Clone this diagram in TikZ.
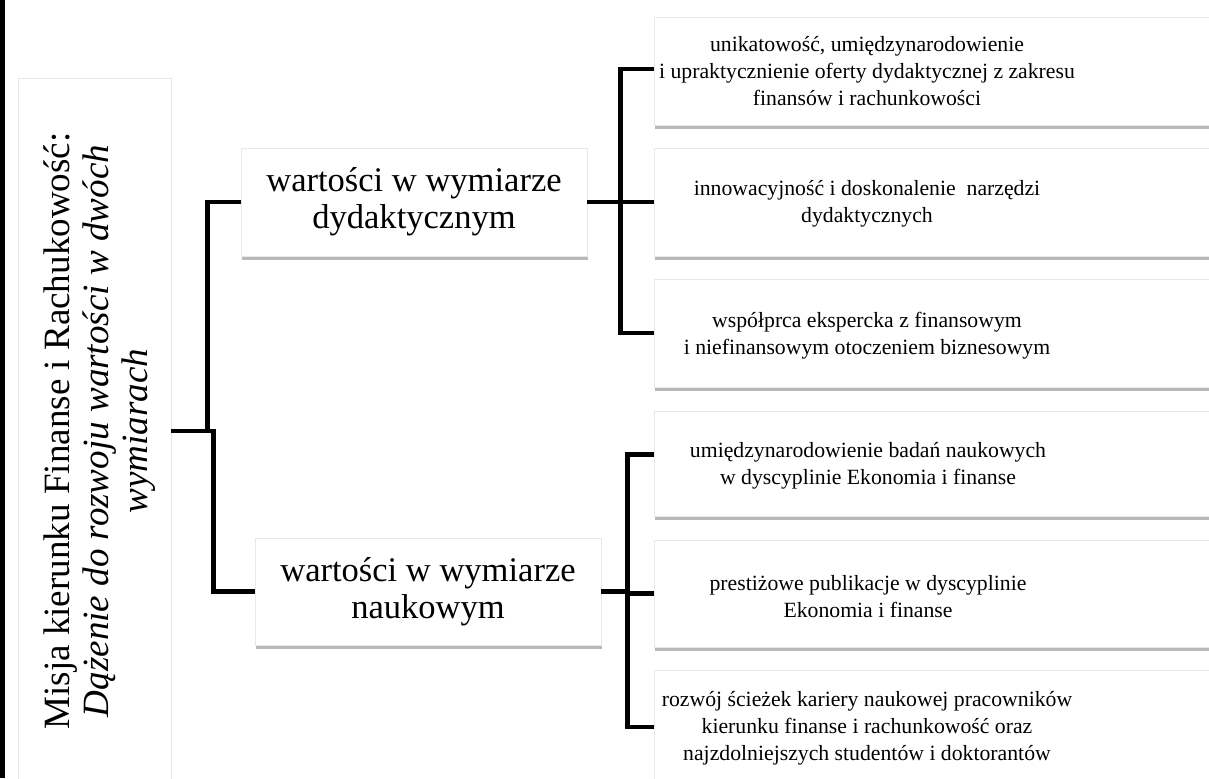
\documentclass[tikz,border=0pt]{standalone}
\usepackage{fontspec}
\setmainfont{Liberation Serif}
\usetikzlibrary{shadows}
\begin{document}
\begin{tikzpicture}[x=0.75pt,y=-0.75pt,
  box/.style={draw=gray!18, line width=0.6pt, fill=white, inner sep=0pt,
    drop shadow={shadow xshift=1.1pt, shadow yshift=-3pt, fill=black!28, opacity=1}},
  conn/.style={line width=3.7pt, line join=miter, black},
  bigtxt/.style={align=center, font=\fontsize{25.9}{27.8}\selectfont},
  smalltxt/.style={align=center, font=\fontsize{16.3}{20.3}\selectfont},
  roottxt/.style={align=center, rotate=90, font=\fontsize{27.8}{29.3}\selectfont}
]
\useasboundingbox (0,0) rectangle (1209,778);
\clip (0,0) rectangle (1209,778);
\fill[white] (0,0) rectangle (1209,778);
% left black bar
\fill[black] (0,0) rectangle (5,778);

% root
\node[box, minimum width=114.75pt, minimum height=529.5pt] (root) at (94.5,431) {};
\node[roottxt] (roott) at (100,431) {Misja kierunku Finanse i Rachukowość:\\ \textit{Dążenie do rozwoju wartości w dwóch}\\ \textit{wymiarach}};

% middle level
\node[box, minimum width=259.5pt, minimum height=81pt, bigtxt] (d1) at (414,202) {wartości w wymiarze\\ dydaktycznym};
\node[box, minimum width=259.5pt, minimum height=80.25pt, bigtxt] (n1) at (428,591.5) {wartości w wymiarze\\ naukowym};

% right boxes
\node[box, minimum width=427.5pt, minimum height=81pt] (a1) at (939,71) {};
\node[box, minimum width=427.5pt, minimum height=81pt] (a2) at (939,202) {};
\node[box, minimum width=427.5pt, minimum height=81pt] (a3) at (939,333) {};
\node[box, minimum width=427.5pt, minimum height=78.75pt] (b1) at (939,463.5) {};
\node[box, minimum width=427.5pt, minimum height=80.25pt] (b2) at (939,593.5) {};
\node[box, minimum width=427.5pt, minimum height=85.5pt] (b3) at (939,727) {};

\node[smalltxt] (a1t) at (867,71) {unikatowość, umiędzynarodowienie\\ i upraktycznienie oferty dydaktycznej z zakresu\\ finansów i rachunkowości};
\node[smalltxt] (a2t) at (867,204) {innowacyjność i doskonalenie\ \ narzędzi\\ dydaktycznych};
\node[smalltxt] (a3t) at (867,336) {współprca ekspercka z finansowym\\ i niefinansowym otoczeniem biznesowym};
\node[smalltxt] (b1t) at (868,466) {umiędzynarodowienie badań naukowych\\ w dyscyplinie Ekonomia i finanse};
\node[smalltxt] (b2t) at (868,597) {prestiżowe publikacje w dyscyplinie\\ Ekonomia i finanse};
\node[smalltxt] (b3t) at (867,728) {rozwój ścieżek kariery naukowej pracowników\\ kierunku finanse i rachunkowość oraz\\ najzdolniejszych studentów i doktorantów};

% connectors
\draw[conn] (root.east) -- ++(36,0) |- (d1.west);
\draw[conn] (root.east) -- ++(42,0) |- (n1.west);
\draw[conn] (d1.east) -- (a2.west);
\draw[conn] ([yshift=1.5pt]a1.west) -- ++(-33,0) |- (a3.west);
\draw[conn] (n1.east) -- ++(27,0);
\draw[conn] ([yshift=6.75pt]b1.west) -- ++(-26,0) |- (b3.west);
\draw[conn] (b2.west) -- ++(-27,0);
\end{tikzpicture}
\end{document}
